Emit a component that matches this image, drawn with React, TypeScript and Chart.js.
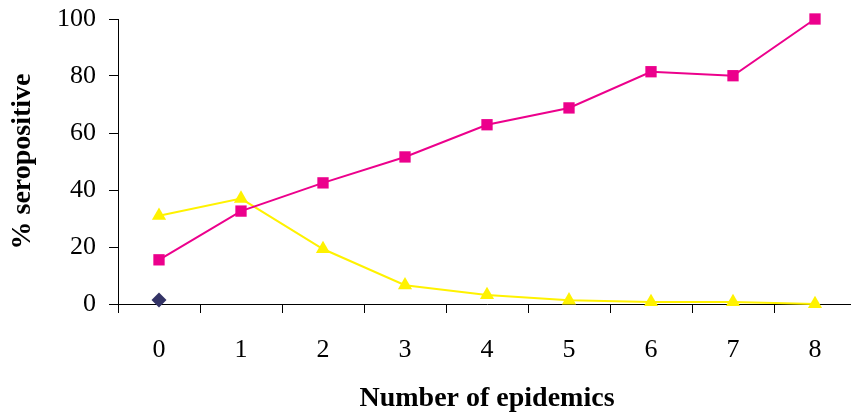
import React, { useEffect, useRef } from "react";
import { Chart, registerables } from "chart.js";

Chart.register(...registerables);

const categories = ["0", "1", "2", "3", "4", "5", "6", "7", "8"];
const pinkValues = [15.5, 32.6, 42.5, 51.6, 62.9, 68.8, 81.5, 80.1, 100];
const yellowValues = [31, 37, 19.3, 6.6, 3.2, 1.3, 0.7, 0.7, 0];
const diamondValues = [1.4, null, null, null, null, null, null, null, null];
const yTicks = [0, 20, 40, 60, 80, 100];

const FONT = "'Liberation Serif', 'Times New Roman', serif";

function zeroPad(scale: any) {
  scale.paddingTop = 0;
  scale.paddingBottom = 0;
  scale.paddingLeft = 0;
  scale.paddingRight = 0;
}

export default function App() {
  const ref = useRef<HTMLCanvasElement | null>(null);

  useEffect(() => {
    document.body.style.margin = "0";
    const canvas = ref.current;
    if (!canvas) return;
    const chart = new Chart(canvas, {
      type: "line",
      data: {
        labels: categories,
        datasets: [
          {
            data: diamondValues,
            borderColor: "#333366",
            backgroundColor: "#333366",
            pointStyle: "rectRot",
            pointRadius: 7.5,
            pointBorderWidth: 0,
            showLine: false,
            clip: false as any,
          },
          {
            data: pinkValues,
            borderColor: "#EC008C",
            backgroundColor: "#EC008C",
            borderWidth: 2,
            pointStyle: "rect",
            pointRadius: 8,
            pointBorderWidth: 0,
            clip: false as any,
          },
          {
            data: yellowValues,
            borderColor: "#FFF200",
            backgroundColor: "#FFF200",
            borderWidth: 2,
            pointStyle: "triangle",
            pointRadius: 8.2,
            pointBorderWidth: 0,
            clip: false as any,
          },
        ],
      },
      options: {
        animation: false,
        responsive: false,
        maintainAspectRatio: false,
        layout: { autoPadding: false, padding: { top: 19, right: 10, bottom: 0, left: 0 } },
        plugins: { legend: { display: false }, tooltip: { enabled: false } },
        scales: {
          x: {
            type: "category",
            offset: true,
            afterFit: (scale: any) => {
              scale.height = 115;
              zeroPad(scale);
            },
            grid: {
              offset: true,
              drawOnChartArea: false,
              drawTicks: true,
              tickLength: 9,
              color: "#000",
              lineWidth: 1,
            },
            border: { display: true, color: "#000", width: 1 },
            ticks: {
              color: "#000",
              padding: 22,
              font: { family: FONT, size: 26 },
              maxRotation: 0,
            },
            title: {
              display: true,
              text: "Number of epidemics",
              color: "#000",
              font: { family: FONT, size: 28, weight: "bold" },
              padding: { top: 0, bottom: 3 },
            },
          },
          y: {
            min: 0,
            max: 100,
            afterFit: (scale: any) => {
              scale.width = 118;
              zeroPad(scale);
            },
            afterBuildTicks: (axis: any) => {
              axis.ticks = yTicks.map((v) => ({ value: v }));
            },
            grid: {
              drawOnChartArea: false,
              drawTicks: true,
              tickLength: 9,
              color: "#000",
              lineWidth: 1,
            },
            border: { display: true, color: "#000", width: 1 },
            ticks: {
              color: "#000",
              padding: 13,
              font: { family: FONT, size: 26 },
            },
            title: {
              display: true,
              text: "% seropositive",
              color: "#000",
              font: { family: FONT, size: 28, weight: "bold" },
              padding: { top: 6, bottom: 0 },
            },
          },
        },
      },
    });
    return () => chart.destroy();
  }, []);

  return (
    <div style={{ width: 851, height: 419, overflow: "hidden", position: "relative", background: "#fff" }}>
      <canvas ref={ref} width={866} height={419} style={{ width: 866, height: 419, display: "block" }} />
    </div>
  );
}
